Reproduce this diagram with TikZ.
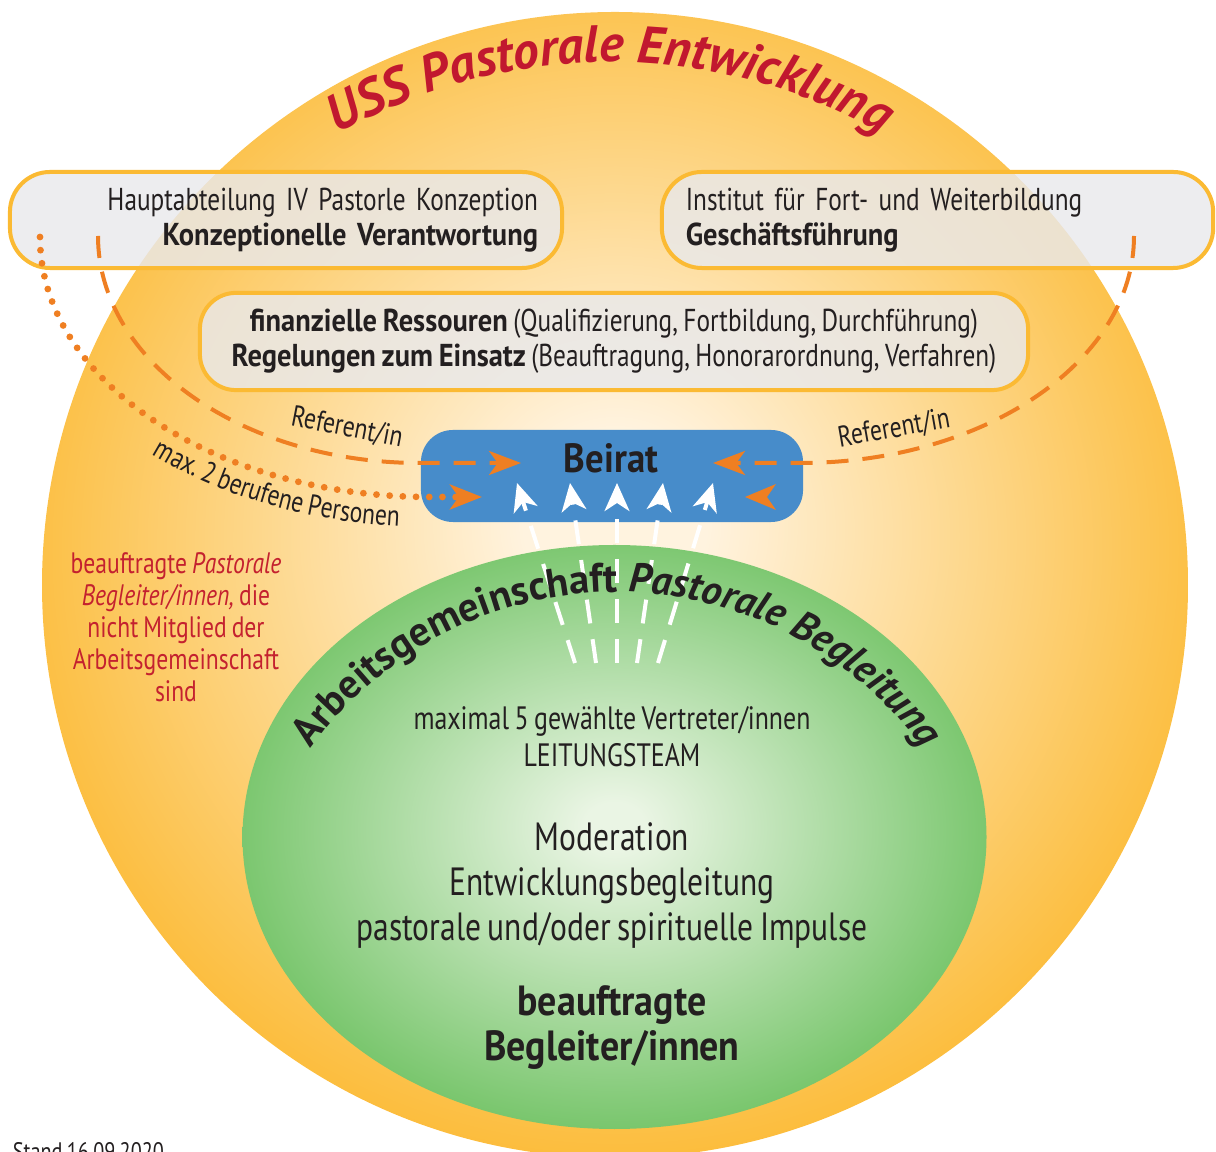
\documentclass[tikz,border=0pt]{standalone}
\usepackage{fontspec}
\setmainfont{PT Sans}[FakeStretch=0.8,WordSpace=0.8,BoldFeatures={FakeStretch=0.9},BoldItalicFeatures={FakeStretch=0.9}]
\newfontfamily\arcfont{PT Sans}
\usetikzlibrary{arrows.meta,decorations.text}

\definecolor{sunedge}{HTML}{FBB21C}
\definecolor{suncore}{HTML}{FFF3DF}
\definecolor{leafedge}{HTML}{55B747}
\definecolor{leafcore}{HTML}{EAF5E4}
\definecolor{boxrim}{HTML}{FBBA33}
\definecolor{boxfill}{HTML}{E9E9EC}
\definecolor{beiratblue}{HTML}{478CCA}
\definecolor{arroworange}{HTML}{EF7F22}
\definecolor{titlered}{HTML}{C1182F}
\definecolor{notered}{HTML}{C4212F}
\definecolor{inkgray}{HTML}{231F20}

\pgfdeclareradialshading{sunglow}{\pgfpoint{0bp}{3bp}}{color(0bp)=(suncore); color(4bp)=(suncore); color(31bp)=(sunedge); color(50bp)=(sunedge)}
\pgfdeclareradialshading{leafglow}{\pgfpoint{0bp}{1bp}}{color(0bp)=(leafcore); color(2bp)=(leafcore); color(33bp)=(leafedge); color(50bp)=(leafedge)}

\begin{document}
\begin{tikzpicture}[
    x=0.025cm, y=0.025cm,
    font=\fontsize{22.5}{25}\selectfont,
    text=inkgray,
    infobox/.style={draw=boxrim,line width=0.1cm,fill=boxfill,fill opacity=0.82,text opacity=1,rounded corners=1cm,minimum height=2.4cm,inner xsep=0.6cm},
    beiratbox/.style={fill=beiratblue,rounded corners=0.8cm,minimum width=9.55cm,minimum height=2.3cm},
    reflink/.style={draw=arroworange,line width=0.1cm,dash pattern=on 0.55cm off 0.35cm,-{Stealth[length=0.8cm,width=0.6cm,inset=0.22cm]}},
    calllink/.style={draw=arroworange,line width=0.17cm,line cap=round,dash pattern=on 0pt off 0.33cm,-{Stealth[length=0.8cm,width=0.62cm,inset=0.22cm]}},
    votelink/.style={draw=white,line width=0.1cm,dash pattern=on 0.6cm off 0.4cm,-{Stealth[length=0.7cm,width=0.62cm,inset=0.2cm]}}
]
\useasboundingbox (0,0) rectangle (1216,1151);

% Sun and leaf
\shade[shading=sunglow] (615,566) circle[radius=573];
\shade[shading=leafglow] (614.5,314) ellipse[x radius=372,y radius=292];

% Boxes
\node[infobox,minimum width=13.8cm,text width=12.6cm,align=right] (hauptabt) at (286,931)
    {Hauptabteilung IV Pastorle Konzeption\\ \textbf{Konzeptionelle Verantwortung}};
\node[infobox,minimum width=13.78cm,text width=12.58cm,align=left] (institut) at (937.5,931)
    {Institut für Fort- und Weiterbildung\\ \textbf{Geschäftsführung}};
\node[infobox,minimum width=20.7cm,minimum height=2.43cm,align=center,rounded corners=0.9cm] (ressourcen) at (614,809.5)
    {\textbf{finanzielle Ressouren} (Qualifizierung, Fortbildung, Durchführung)\\
     \textbf{Regelungen zum Einsatz} (Beauftragung, Honorarordnung, Verfahren)};

% Beirat
\node[beiratbox] (beirat) at (612,675) {};

% Votes from the Arbeitsgemeinschaft
\foreach \bx/\tx [count=\i] in {575/517,596/570,617/617,637/663,658/713}{
    \coordinate (vote\i) at (\bx,488);
    \coordinate (seat\i) at (\tx,668);
    \draw[votelink] (vote\i) -- (seat\i);
}

% Referent/innen and berufene Personen
\coordinate (hauptRef) at (98,915);
\coordinate (beiratRefL) at (521,688);
\coordinate (institutRef) at (1134,915);
\coordinate (beiratRefR) at (713,688);
\coordinate (hauptDot) at (40,914);
\coordinate (beiratDot) at (482,654);
\coordinate (beiratLone) at (745,654);

\draw[reflink] (hauptRef) arc[start angle=180,end angle=270,x radius=322,y radius=227] -- (beiratRefL);
\draw[reflink] (institutRef) arc[start angle=0,end angle=-90,x radius=334,y radius=227] -- (beiratRefR);
\draw[calllink] (hauptDot) arc[start angle=180,end angle=270,x radius=390,y radius=260] -- (beiratDot);
\fill[arroworange] (beiratLone) -- (776,667) -- (767,654) -- (776,641) -- cycle;

\node[rotate=-11,font=\fontsize{21}{24}\selectfont] (refL) at (347,723) {Referent/in};
\node[rotate=10,font=\fontsize{21}{24}\selectfont] (refR) at (894,722) {Referent/in};
\path[decorate,decoration={text along path,text align=center,text color=inkgray,
    text={|\fontsize{21}{24}\selectfont|max. 2 berufene Personen}}]
    (81.8,751.8) arc[start angle=214,end angle=278,x radius=420,y radius=290];

\node[font=\fontsize{29}{32}\selectfont\bfseries] (beirattext) at (611,693) {Beirat};

% Titles on the arcs
\path[decorate,decoration={text along path,text align=center,text color=titlered,
    text={|\arcfont\fontsize{37}{40}\selectfont\bfseries\itshape|USS Pastorale Entwicklung}}]
    (135.4,815) arc[start angle=150,end angle=30,radius=548];
\path[decorate,decoration={text along path,text align=center,text color=inkgray,
    text={|\arcfont\fontsize{29}{32}\selectfont\bfseries|Arbeitsgemeinschaft |\arcfont\fontsize{29}{32}\selectfont\bfseries\itshape|Pastorale Begleitung}}]
    (262.7,310.9) arc[start angle=160,end angle=20,radius=377];

% Outside the Arbeitsgemeinschaft
\node[text=notered,align=center,font=\fontsize{21}{22.8}\selectfont] (aussen) at (176,524)
    {beauftragte \textit{Pastorale}\\ \textit{Begleiter/innen,} die\\ nicht Mitglied der\\ Arbeitsgemeinschaft\\ sind};

% Inside the Arbeitsgemeinschaft
\node[align=center,font=\fontsize{23}{26.3}\selectfont] (leitung) at (612,414.5)
    {maximal 5 gewählte Vertreter/innen\\ LEITUNGSTEAM};
\node[align=center,font=\fontsize{28}{32}\selectfont] (aufgaben) at (612,266)
    {Moderation\\ Entwicklungsbegleitung\\ pastorale und/oder spirituelle Impulse};
\node[align=center,font=\fontsize{30}{32}\selectfont\bfseries] (begleiter) at (612,123.5)
    {beauftragte\\ Begleiter/innen};

\node[anchor=base west,font=\fontsize{18}{20}\selectfont] (stand) at (8,-9) {Stand 16.09.2020};
\end{tikzpicture}
\end{document}
